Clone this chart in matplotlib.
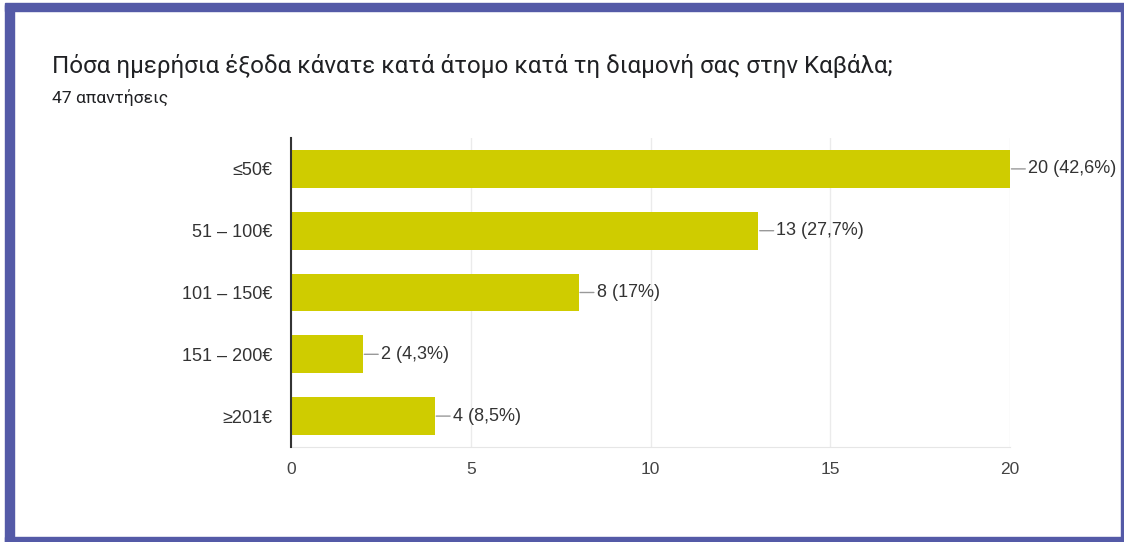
import matplotlib
matplotlib.use("Agg")
import matplotlib.pyplot as plt
from matplotlib.patches import Rectangle

title = "Πόσα ημερήσια έξοδα κάνατε κατά άτομο κατά τη διαμονή σας στην Καβάλα;"
subtitle = "47 απαντήσεις"
categories = ["≤50€", "51 – 100€", "101 – 150€", "151 – 200€", "≥201€"]
counts = [20, 13, 8, 2, 4]
percents = ["42,6%", "27,7%", "17%", "4,3%", "8,5%"]
xticks = [0, 5, 10, 15, 20]

W, H = 1124, 542
fig = plt.figure(figsize=(W / 100, H / 100), dpi=100)
fig.patch.set_facecolor("white")

# frame border
border = "#545aa7"
fig.add_artist(Rectangle((5 / W, 0), 9 / W, 537 / H, transform=fig.transFigure, color=border, zorder=0))
fig.add_artist(Rectangle((5 / W, (H - 11) / H), (W - 5) / W, 8 / H, transform=fig.transFigure, color=border, zorder=0))
fig.add_artist(Rectangle((1121 / W, 0), 3 / W, 537 / H, transform=fig.transFigure, color=border, zorder=0))
fig.add_artist(Rectangle((5 / W, 0), (W - 5) / W, 5 / H, transform=fig.transFigure, color=border, zorder=0))

fig.text(52 / W, 1 - 66 / H, title, fontsize=17.4, family=["Roboto", "DejaVu Sans"],
         color="#202124", va="center", ha="left")
fig.text(52 / W, 1 - 98 / H, subtitle, fontsize=12.6, family=["Roboto", "DejaVu Sans"],
         color="#202124", va="center", ha="left")

ax = fig.add_axes([291 / W, 1 - 447 / H, (1010 - 291) / W, (447 - 138) / H])
y = list(range(len(categories)))
ax.barh(y, counts, height=0.61, color="#cfcc00", zorder=3)
ax.set_ylim(len(categories) - 0.5, -0.5)
ax.set_xlim(0, 20)
ax.set_xticks(xticks)
ax.set_xticklabels([str(t) for t in xticks])
ax.set_yticks(y)
ax.set_yticklabels(categories)
for lab in ax.get_yticklabels():
    lab.set_family(["Liberation Sans", "DejaVu Sans"])
    lab.set_fontsize(13)
    lab.set_color("#333333")
for lab in ax.get_xticklabels():
    lab.set_family(["Liberation Sans", "DejaVu Sans"])
    lab.set_fontsize(12.5)
    lab.set_color("#444444")
ax.tick_params(axis="both", length=0)
ax.tick_params(axis="y", pad=13.5)
ax.tick_params(axis="x", pad=10.5)
ax.grid(axis="x", color="#ebebeb", linewidth=1, zorder=0)
for s in ["top", "right"]:
    ax.spines[s].set_visible(False)
ax.spines["bottom"].set_color("#e6e6e6")
ax.spines["left"].set_color("#333333")
ax.spines["left"].set_linewidth(1.5)
ax.spines["left"].set_zorder(4)

for yi, c, p in zip(y, counts, percents):
    ax.annotate(f"{c} ({p})", xy=(c, yi), xytext=(13, 0), textcoords="offset points",
                ha="left", va="center", fontsize=13, color="#333333",
                family=["Liberation Sans", "DejaVu Sans"], annotation_clip=False,
                arrowprops=dict(arrowstyle="-", color="#999999", lw=1, shrinkA=0, shrinkB=1))

fig.savefig("out.png", dpi=100, facecolor="white")
